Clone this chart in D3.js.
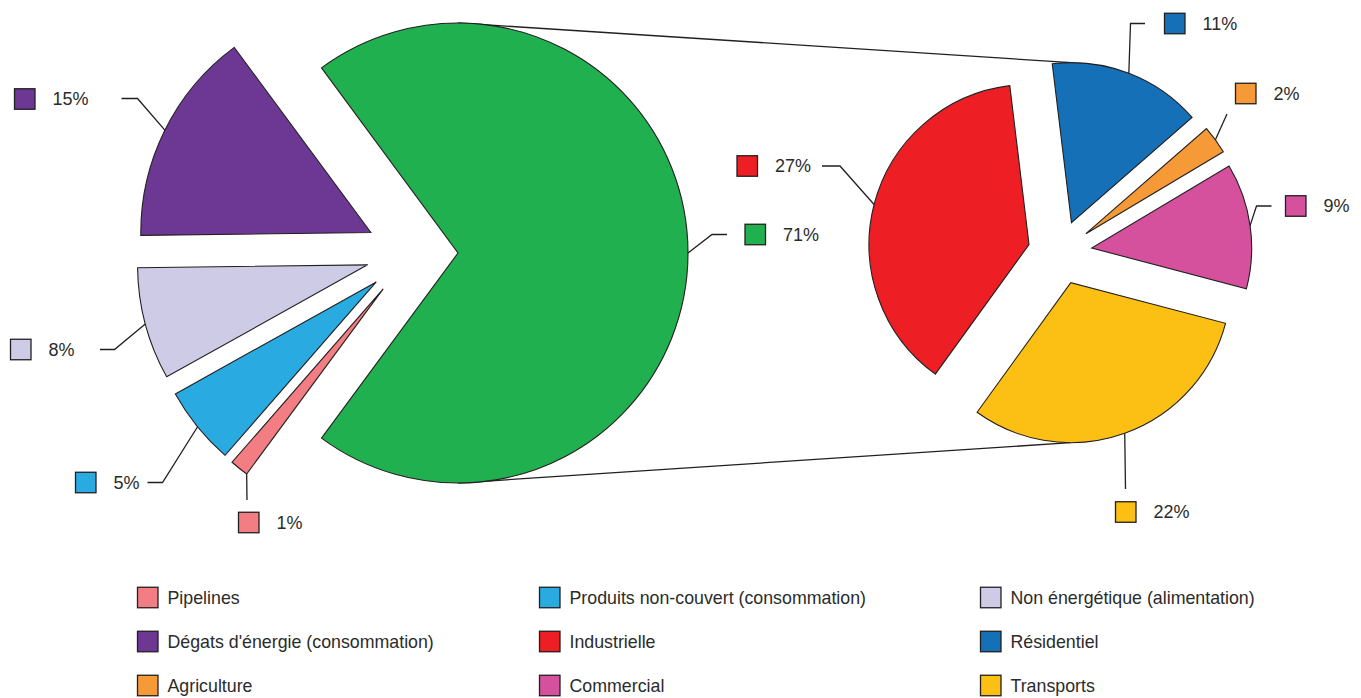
<!DOCTYPE html>
<html>
<head>
<meta charset="utf-8">
<script src="https://cdn.jsdelivr.net/npm/d3@7"></script>
<style>
  body { margin: 0; background: #fff; }
  text { font-family: "Liberation Sans", Arial, sans-serif; fill: #2b2b2b; }
</style>
</head>
<body>
<div id="chart"></div>
<script>
// left pie: first slice is the aggregate that gets split into the right pie
const leftCategories = ["Autres", "Pipelines", "Produits non-couvert (consommation)", "Non énergétique (alimentation)", "Dégats d'énergie (consommation)"];
const leftValues = [null, 1.3, 5.5, 7.9, 15.1];
const leftLabels = ["71%", "1%", "5%", "8%", "15%"];

// right pie (shares of the total)
const rightCategories = ["Résidentiel", "Agriculture", "Commercial", "Transports", "Industrielle"];
const rightValues = [10.9, 2.0, 8.9, 21.7, 26.8];
const rightLabels = ["11%", "2%", "9%", "22%", "27%"];

const legendItems = [
    "Pipelines", "Produits non-couvert (consommation)", "Non énergétique (alimentation)",
    "Dégats d'énergie (consommation)", "Industrielle", "Résidentiel",
    "Agriculture", "Commercial", "Transports"
];

const colors = {
    "Autres": "#21b04f",
    "Pipelines": "#f27d83",
    "Produits non-couvert (consommation)": "#29abe2",
    "Non énergétique (alimentation)": "#cdcbe6",
    "Dégats d'énergie (consommation)": "#6c3894",
    "Industrielle": "#ed1f24",
    "Résidentiel": "#1570b8",
    "Agriculture": "#f69a38",
    "Commercial": "#d5519e",
    "Transports": "#fbc013"
};

// label boxes [x, centre y], leader bend points, and where on the arc the leader starts (0 = start edge, 1 = end edge)
const labelLayout = {
    "Autres": { box: [745, 234.5], bend: [[712, 234.5], [727, 234.5]] },
    "Pipelines": { box: [238.5, 522.5], bend: [[247, 500]], at: 0 },
    "Produits non-couvert (consommation)": { box: [75.5, 482.5], bend: [[162.5, 482.5], [147.5, 482.5]] },
    "Non énergétique (alimentation)": { box: [10.5, 349.5], bend: [[114.5, 349.5], [100, 349.5]] },
    "Dégats d'énergie (consommation)": { box: [14.5, 99], bend: [[137.5, 98.5], [121.5, 98.5]] },
    "Résidentiel": { box: [1164.5, 23.5], bend: [[1130.5, 23.5], [1145, 23.5]] },
    "Agriculture": { box: [1235.5, 93.5], bend: [[1227, 114]] },
    "Commercial": { box: [1285.5, 206], bend: [[1256.5, 206], [1271.5, 206]] },
    "Transports": { box: [1115.5, 512], bend: [[1125.5, 489]] },
    "Industrielle": { box: [737, 166], bend: [[840, 166], [822, 166]] }
};

let width = 1361, height = 698;
let boxSize = 20.5;

let svg = d3.select('#chart')
    .append('svg')
    .attr('width', width)
    .attr('height', height);

let leftPie = { cx: 412, cy: 253, r: 230 };
let rightPie = { cx: 1060, cy: 252.5, r: 160 };
let explode = 0.2;

// aggregate slice equals the sum of the right pie
leftValues[0] = d3.sum(rightValues);

let leftData = leftCategories.map((c, i) => ({ name: c, value: leftValues[i], label: leftLabels[i] }));
let rightData = rightCategories.map((c, i) => ({ name: c, value: rightValues[i], label: rightLabels[i] }));

// aggregate slice centred facing right
let leftStart = Math.PI / 2 - Math.PI * leftValues[0] / d3.sum(leftValues);
let rightStart = -6.9 * Math.PI / 180;

function layoutPie(data, start, p) {
    let arcs = d3.pie().sort(null).value(d => d.value)
        .startAngle(start).endAngle(start + 2 * Math.PI)(data);
    arcs.forEach(a => {
        let mid = (a.startAngle + a.endAngle) / 2;
        let e = p.r * explode;
        a.mid = mid;
        a.x = p.cx + e * Math.sin(mid);
        a.y = p.cy - e * Math.cos(mid);
        a.r = p.r;
    });
    return arcs;
}

let leftArcs = layoutPie(leftData, leftStart, leftPie);
let rightArcs = layoutPie(rightData, rightStart, rightPie);

// connector lines between aggregate slice and right pie
function sliceAt(arcs, ang) {
    return arcs.find(a => {
        let t = ang;
        while (t < a.startAngle) t += 2 * Math.PI;
        return t <= a.endAngle;
    });
}
let agg = leftArcs[0];
let topSlice = sliceAt(rightArcs, 0);
let botSlice = sliceAt(rightArcs, Math.PI);
svg.append("line")
    .attr("x1", agg.x).attr("y1", agg.y - agg.r)
    .attr("x2", topSlice.x).attr("y2", topSlice.y - topSlice.r)
    .attr("stroke", "#231f20").attr("stroke-width", 1.3);
svg.append("line")
    .attr("x1", agg.x).attr("y1", agg.y + agg.r)
    .attr("x2", botSlice.x).attr("y2", botSlice.y + botSlice.r)
    .attr("stroke", "#231f20").attr("stroke-width", 1.3);

function drawPie(arcs) {
    let g = svg.append("g");
    g.selectAll("path.slice")
        .data(arcs)
        .enter()
        .append("path")
        .attr("class", "slice")
        .attr("transform", d => "translate(" + d.x + "," + d.y + ")")
        .attr("d", d => d3.arc().innerRadius(0).outerRadius(d.r)(d))
        .attr("fill", d => colors[d.data.name])
        .attr("stroke", "#231f20")
        .attr("stroke-width", 1.1)
        .attr("stroke-linejoin", "miter");

    // leader lines + label boxes
    arcs.forEach(d => {
        let lay = labelLayout[d.data.name];
        let t = lay.at === undefined ? 0.5 : lay.at;
        let ang = d.startAngle + t * (d.endAngle - d.startAngle);
        let sx = d.x + d.r * Math.sin(ang);
        let sy = d.y - d.r * Math.cos(ang);
        let pts = [[sx, sy]].concat(lay.bend);
        g.append("path")
            .attr("d", d3.line()(pts))
            .attr("fill", "none")
            .attr("stroke", "#231f20")
            .attr("stroke-width", 1.3);
        g.append("rect")
            .attr("x", lay.box[0])
            .attr("y", lay.box[1] - boxSize / 2)
            .attr("width", boxSize)
            .attr("height", boxSize)
            .attr("fill", colors[d.data.name])
            .attr("stroke", "#231f20")
            .attr("stroke-width", 1.3);
        g.append("text")
            .attr("x", lay.box[0] + 38)
            .attr("y", lay.box[1])
            .attr("dy", "0.36em")
            .style("font-size", "18px")
            .text(d.data.label);
    });
}

drawPie(leftArcs);
drawPie(rightArcs);

// legend, 3 columns
let legendCols = [137.5, 539.5, 980.5];
let legendRows = [597.5, 641.5, 685.5];
let legend = svg.append("g");
legendItems.forEach((name, i) => {
    let x = legendCols[i % 3], y = legendRows[Math.floor(i / 3)];
    legend.append("rect")
        .attr("x", x).attr("y", y - boxSize / 2)
        .attr("width", boxSize).attr("height", boxSize)
        .attr("fill", colors[name])
        .attr("stroke", "#231f20")
        .attr("stroke-width", 1.3);
    legend.append("text")
        .attr("x", x + 30)
        .attr("y", y)
        .attr("dy", "0.36em")
        .style("font-size", "17.8px")
        .text(name);
});
</script>
</body>
</html>
